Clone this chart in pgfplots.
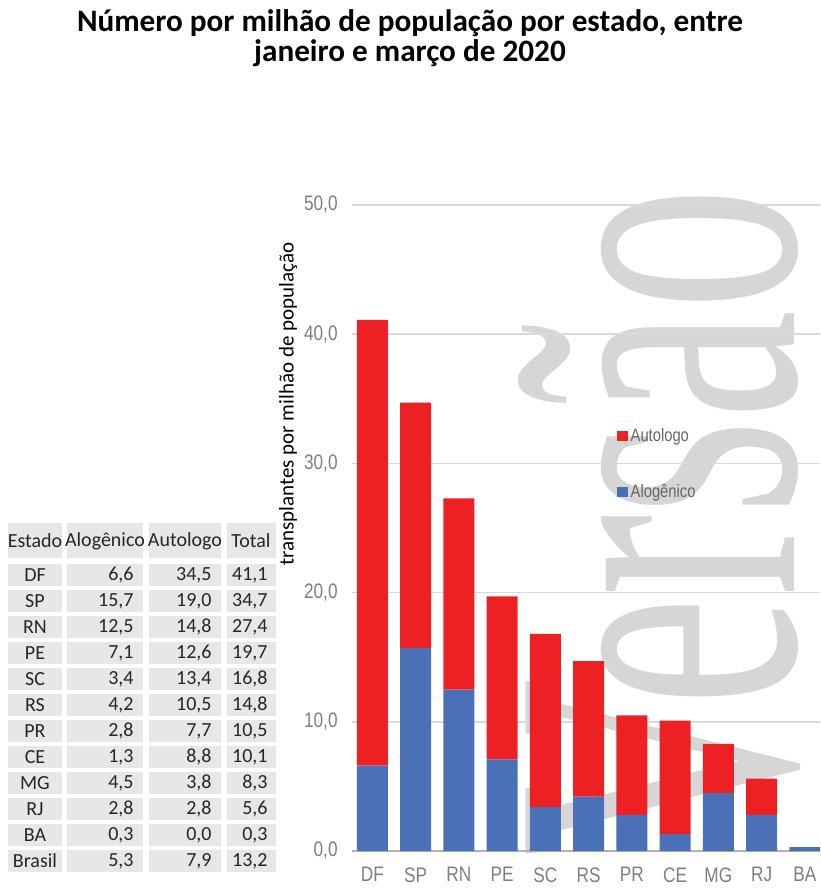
\documentclass[border=0pt]{standalone}
\usepackage{pgfplots}
\pgfplotsset{compat=1.18}
\usepackage{fontspec}
\setmainfont{Carlito}
\newfontfamily\narrow[FakeStretch=0.82]{Liberation Sans}
\newfontfamily\wmfont{Liberation Serif}
\definecolor{cred}{HTML}{ED2024}
\definecolor{cblue}{HTML}{4A70B8}
\definecolor{tickgray}{HTML}{7F7F7F}
\definecolor{cellgray}{HTML}{E7E7E7}
\definecolor{gridgray}{HTML}{D9D9D9}
\newcommand\trow[5]{%
  \fill[cellgray] (8,{564+26*#1}) rectangle (62,{586+26*#1});
  \fill[cellgray] (67,{564+26*#1}) rectangle (143,{586+26*#1});
  \fill[cellgray] (149,{564+26*#1}) rectangle (221,{586+26*#1});
  \fill[cellgray] (227,{564+26*#1}) rectangle (276,{586+26*#1});
  \node at (35,{575+26*#1}) {#2};
  \node[anchor=east] at (134,{575+26*#1}) {#3};
  \node[anchor=east] at (212,{575+26*#1}) {#4};
  \node[anchor=east] at (268,{575+26*#1}) {#5};
}

\begin{document}
\begin{tikzpicture}
\path[use as bounding box] (0,0) rectangle (410pt,444.5pt);
\begin{scope}[x=0.5pt,y=-0.5pt,yshift=444.5pt]
  % watermark
  \node[rotate=90, anchor=base, inner sep=0pt, text=black!16, font=\wmfont\fontsize{205}{205}\selectfont] at (794,522) {\scalebox{0.6}[1]{Versão}};
\end{scope}

\begin{axis}[
  at={(176pt,19pt)}, anchor=south west,
  scale only axis, width=234pt, height=323pt,
  ybar stacked, bar width=15.5pt,
  xmin=-0.47, xmax=10.35, ymin=0, ymax=50,
  xtick={0,...,10},
  xticklabels={DF,SP,RN,PE,SC,RS,PR,CE,MG,RJ,BA},
  ytick={0,10,20,30,40,50},
  yticklabels={{0,0},{10,0},{20,0},{30,0},{40,0},{50,0}},
  major tick length=0pt,
  axis lines*=left,
  y axis line style={draw=none},
  x axis line style={draw=black!30, line width=0.8pt},
  ymajorgrids, grid style={draw=gridgray, line width=0.8pt},
  tick label style={font=\narrow\fontsize{10.5}{12}\selectfont, text=tickgray},
  yticklabel style={inner sep=0pt, xshift=-7pt},
  xticklabel style={inner sep=0pt, yshift=-8pt},
  reverse legend,
  legend cell align=left,
  legend style={draw=none, fill=none, at={(0.566,0.66)}, anchor=north west,
    font=\narrow\fontsize{9}{10}\selectfont, text=black!60, row sep=17pt,
    inner sep=0pt, nodes={inner sep=1.5pt}},
  legend image code/.code={\fill[#1] (0pt,-2.6pt) rectangle (5.2pt,2.6pt);},
]
\addplot[fill=cblue, draw=none] coordinates {(0,6.6) (1,15.7) (2,12.5) (3,7.1) (4,3.4) (5,4.2) (6,2.8) (7,1.3) (8,4.5) (9,2.8) (10,0.3)};
\addplot[fill=cred, draw=none] coordinates {(0,34.5) (1,19.0) (2,14.8) (3,12.6) (4,13.4) (5,10.5) (6,7.7) (7,8.8) (8,3.8) (9,2.8) (10,0.0)};
\legend{Alogênico,Autologo}
\end{axis}

\begin{scope}[x=0.5pt,y=-0.5pt,yshift=444.5pt]
  % title
  \node[align=center, font=\bfseries\fontsize{15.6}{15}\selectfont, inner sep=0pt] at (410,38) {Número por milhão de população por estado, entre\\janeiro e março de 2020};
  % y label
  \node[rotate=90, font=\fontsize{10.5}{12}\selectfont, inner sep=0pt] at (288,404) {transplantes por milhão de população};
  % table
  \fill[cellgray] (8,523) rectangle (62,558);
  \fill[cellgray] (67,523) rectangle (143,558);
  \fill[cellgray] (149,523) rectangle (221,558);
  \fill[cellgray] (227,523) rectangle (276,558);
  \begin{scope}[font=\fontsize{10}{11}\selectfont, text=black!85, inner sep=0pt]
  \node at (35,541) {Estado};
  \node at (105,541) {Alogênico};
  \node at (185,541) {Autologo};
  \node at (251,541) {Total};
  \trow{0}{DF}{6,6}{34,5}{41,1}
  \trow{1}{SP}{15,7}{19,0}{34,7}
  \trow{2}{RN}{12,5}{14,8}{27,4}
  \trow{3}{PE}{7,1}{12,6}{19,7}
  \trow{4}{SC}{3,4}{13,4}{16,8}
  \trow{5}{RS}{4,2}{10,5}{14,8}
  \trow{6}{PR}{2,8}{7,7}{10,5}
  \trow{7}{CE}{1,3}{8,8}{10,1}
  \trow{8}{MG}{4,5}{3,8}{8,3}
  \trow{9}{RJ}{2,8}{2,8}{5,6}
  \trow{10}{BA}{0,3}{0,0}{0,3}
  \trow{11}{Brasil}{5,3}{7,9}{13,2}
  \end{scope}
\end{scope}
\end{tikzpicture}
\end{document}
